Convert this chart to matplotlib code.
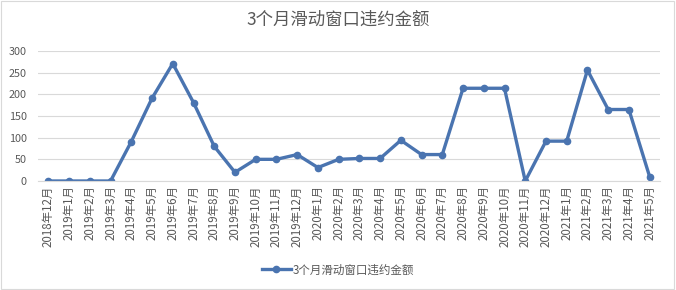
import matplotlib
matplotlib.use('Agg')
from matplotlib import pyplot as plt
from matplotlib.patches import Rectangle

plt.rcParams['font.family'] = ['Noto Sans CJK SC', 'DejaVu Sans']

months = ['2018年12月', '2019年1月', '2019年2月', '2019年3月', '2019年4月', '2019年5月',
          '2019年6月', '2019年7月', '2019年8月', '2019年9月', '2019年10月', '2019年11月',
          '2019年12月', '2020年1月', '2020年2月', '2020年3月', '2020年4月', '2020年5月',
          '2020年6月', '2020年7月', '2020年8月', '2020年9月', '2020年10月', '2020年11月',
          '2020年12月', '2021年1月', '2021年2月', '2021年3月', '2021年4月', '2021年5月']
amount = [0, 0, 0, 0, 91, 191, 271, 181, 80, 20, 50, 50, 61, 31, 50, 52, 52, 94,
          61, 61, 214, 214, 214, 0, 92, 92, 256, 165, 165, 10]
series_name = '3个月滑动窗口违约金额'
title = '3个月滑动窗口违约金额'

gray = '#595959'
blue = '#4a74b0'

fig = plt.figure(figsize=(6.76, 2.90), dpi=100)
ax = fig.add_axes([38 / 676, 1 - 181 / 290, 622 / 676, 130 / 290])

x = range(len(months))
line, = ax.plot(x, amount, '-o', color=blue, lw=2.4, ms=4.5, label=series_name)

ax.set_xlim(-0.5, len(months) - 0.5)
ax.set_ylim(0, 300)
ax.set_yticks(range(0, 301, 50))
ax.set_xticks(list(x))
ax.set_xticklabels(months, rotation=90, fontsize=8.3, color=gray)
ax.tick_params(axis='y', labelsize=7.8, labelcolor=gray, length=0, pad=8)
ax.tick_params(axis='x', length=0, pad=3)
ax.grid(axis='y', color='#d9d9d9', lw=0.8)
ax.set_axisbelow(True)
for s in ['top', 'right', 'left']:
    ax.spines[s].set_visible(False)
ax.spines['bottom'].set_color('#d9d9d9')

fig.text(0.5, 1 - 20 / 290, title, ha='center', va='center', fontsize=12.5, color=gray)
fig.legend(handles=[line], loc='center', bbox_to_anchor=(0.5, 1 - 270 / 290),
           frameon=False, fontsize=8.3, handlelength=2.5, handletextpad=0.2,
           labelcolor=gray)

# chart border
fig.patches.append(Rectangle((0.002, 0.003), 0.995, 0.994, transform=fig.transFigure,
                             fill=False, edgecolor='#d9d9d9', lw=0.8))

fig.savefig('out.png', dpi=100)
